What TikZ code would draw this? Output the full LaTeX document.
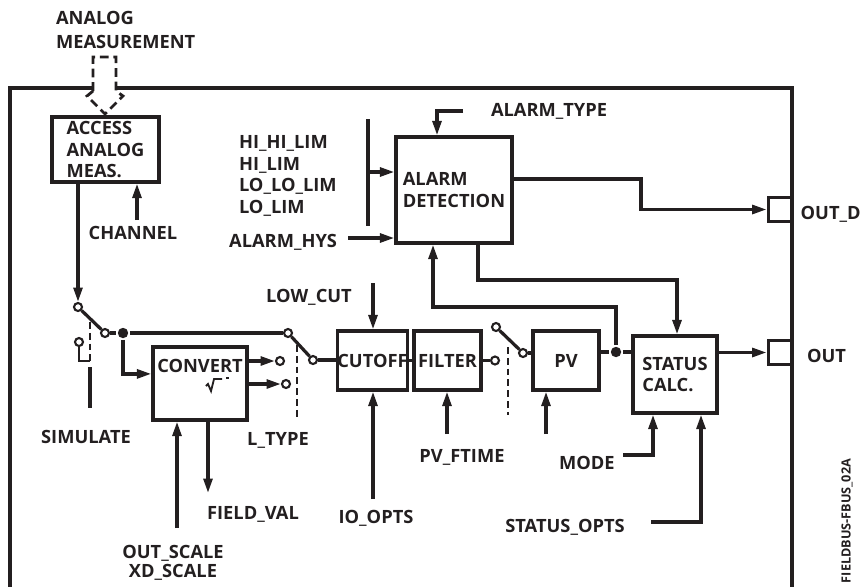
\documentclass[tikz,border=0pt]{standalone}
\usepackage{fontspec}
\setmainfont{Open Sans}
\usetikzlibrary{arrows.meta}
\definecolor{inkblack}{RGB}{35,31,32}

\begin{document}
\begin{tikzpicture}[x=0.025cm, y=-0.025cm, line width=2.3pt, color=inkblack,
    every node/.style={font=\fontsize{13}{15.5}\selectfont\bfseries, inner sep=1pt},
    blk/.style={draw, line width=2.3pt, inner sep=0pt, align=left},
    contact/.style={circle, draw, line width=1.5pt, fill=white, inner sep=0pt, minimum size=0.2cm},
    dot/.style={circle, fill=inkblack, inner sep=0pt, minimum size=0.26cm},
    sig/.style={-{Triangle[length=0.36cm, width=0.22cm]}},
    act/.style={line width=1.4pt, dash pattern=on 0.17cm off 0.1cm}]
    \useasboundingbox (0,0) rectangle (860,586);

    % Block frame
    \draw (93,88) -- (10,88) -- (10,590);
    \draw (116,88) -- (792,88) -- (792,590);

    % Function blocks
    \node[blk, minimum width=2.675cm, minimum height=1.625cm] (acc) at (105.5,149.5) {ACCESS\\ANALOG\\MEAS.};
    \node[blk, minimum width=2.9cm, minimum height=2.65cm] (alarm) at (454,190) {ALARM\\DETECTION};
    \node[blk, minimum width=2.35cm, minimum height=1.825cm] (conv) at (200,383.5) {};
    \node[blk, minimum width=1.675cm, minimum height=1.475cm] (cut) at (372.5,360.5) {CUTOFF};
    \node[blk, minimum width=1.675cm, minimum height=1.475cm] (filt) at (447.5,360.5) {FILTER};
    \node[blk, minimum width=1.65cm, minimum height=1.475cm] (pv) at (566,360.5) {PV};
    \node[blk, minimum width=2.1cm, minimum height=1.925cm] (stat) at (675,374.5) {STATUS\\CALC.};
    \node[blk, minimum size=0.59cm] (outd) at (780,209.5) {};
    \node[blk, minimum size=0.59cm] (out) at (780,352.5) {};

    % Switch contacts and junctions
    \node[contact] (s1) at (78,307) {};
    \node[contact] (s2) at (105,333) {};
    \node[contact] (s3) at (79,342) {};
    \node[dot] (j1) at (123,333) {};
    \node[contact] (t1) at (288,333) {};
    \node[contact] (t2) at (313,360) {};
    \node[contact] (c1) at (280,361) {};
    \node[contact] (c2) at (286,384) {};
    \node[contact] (f1) at (495,360.5) {};
    \node[contact] (p1) at (496,327) {};
    \node[contact] (p2) at (523,353) {};
    \node[dot] (j2) at (616,352) {};

    % Labels
    \node[align=left, anchor=west] (meas) at (53,30) {ANALOG\\[2pt]MEASUREMENT};
    \node (chan) at (133,233) {CHANNEL};
    \node[align=left, anchor=west] (lims) at (236,176) {HI\_HI\_LIM\\HI\_LIM\\LO\_LO\_LIM\\LO\_LIM};
    \node[anchor=east] (hys) at (340,242) {ALARM\_HYS};
    \node[anchor=west] (atype) at (488,111) {ALARM\_TYPE};
    \node[anchor=west, inner sep=0pt] (outdl) at (799,214) {OUT\_D};
    \node[anchor=west] (outl) at (804,356) {OUT};
    \node (sim) at (86,437) {SIMULATE};
    \node (convl) at (200,366) {CONVERT};
    \node (ltype) at (278,440) {L\_TYPE};
    \node (lowcut) at (309,297) {LOW\_CUT};
    \node (ftime) at (462,457) {PV\_FTIME};
    \node (ioopts) at (376,518) {IO\_OPTS};
    \node[anchor=west] (model) at (556,463) {MODE};
    \node (sopts) at (565,527) {STATUS\_OPTS};
    \node (fval) at (253,514) {FIELD\_VAL};
    \node[align=center] (scale) at (173,563) {OUT\_SCALE\\[-2pt]XD\_SCALE};
    \node[rotate=90, font=\fontsize{9}{10}\selectfont\bfseries] (figid) at (847,521) {FIELDBUS-FBUS\_02A};

    % Analog measurement input
    \draw[line width=2pt, dash pattern=on 0.22cm off 0.12cm] (93,91) -- (93,57) -- (116,57) -- (116,91) -- (123,96) -- (105,114) -- (87,96) -- cycle;

    % Measurement path
    \draw[sig] (s1 |- acc.south) -- (s1);
    \draw (s1) -- (s2);
    \draw (s2) -- (j1) -- (t1);
    \draw[sig] (j1) |- ([yshift=0.24cm]conv.west);

    % Simulate switch
    \coordinate (simk) at (90,361);
    \draw[line width=1.6pt] (s3) |- (simk);
    \draw[act] (90,322) -- (simk);
    \draw (90,367) -- (90,408);

    % Convert outputs and square root mark
    \draw[sig] (conv.east |- c1) -- (c1);
    \draw[sig] (conv.east |- c2) -- (c2);
    \draw[line width=1.3pt] (206,386) -- (208,384) -- (211,391) -- (214,379) -- (222,379);
    \draw[line width=1.3pt] (226,378) -- (229,378);

    % L_TYPE switch
    \draw (t1) -- (t2);
    \draw[act] (297,345) -- (297,420);
    \draw (t2) -- (t2 -| cut.west);
    \draw (cut.east) -- (filt.west);
    \draw (filt.east) -- (f1);

    % PV switch
    \draw (p1) -- (p2);
    \draw[act] (508,347) -- (508,415);
    \draw (p2) -- (p2 -| pv.west);
    \draw (pv.east |- j2) -- (j2) -- (j2 -| stat.west);

    % Alarm feedback and outputs
    \coordinate (fb) at (433,307);
    \draw[sig] (j2) |- (fb) -- (fb |- alarm.south);
    \coordinate (al) at (478,280);
    \draw[sig] (al |- alarm.south) -- (al) -| ([xshift=0.05cm]stat.north);
    \coordinate (ad) at (641,179);
    \draw[sig] (alarm.east |- ad) -- (ad) |- (outd.west);
    \draw[sig] (stat.east |- out.west) -- (out.west);

    % Parameter inputs
    \coordinate (ch) at (137,220);
    \draw[sig] (ch) -- (ch |- acc.south);
    \coordinate (aty) at (463,111);
    \coordinate (atyk) at (437,111);
    \draw[sig] (aty) -- (atyk) -- (atyk |- alarm.north);
    \coordinate (limtop) at (368,119);
    \coordinate (limbot) at (368,226);
    \draw (limtop) -- (limbot);
    \coordinate (limk) at (368,172);
    \draw[sig] (limk) -- (limk -| alarm.west);
    \coordinate (hysk) at (348,238);
    \draw[sig] (hysk) -- (hysk -| alarm.west);
    \coordinate (lck) at (373,283);
    \draw[sig] (lck) -- (lck |- cut.north);
    \coordinate (iok) at (373,499);
    \draw[sig] (iok) -- (iok |- cut.south);
    \coordinate (ftk) at (447,434);
    \draw[sig] (ftk) -- (ftk |- filt.south);
    \coordinate (pvk) at (546,434);
    \draw[sig] (pvk) -- (pvk |- pv.south);
    \coordinate (mdk) at (623,455);
    \draw[sig] (mdk) -| ([xshift=-0.55cm]stat.south);
    \coordinate (sok) at (651,522);
    \draw[sig] (sok) -| ([xshift=0.65cm]stat.south);
    \coordinate (fvk) at (208,493);
    \draw[sig] (fvk |- conv.south) -- (fvk);
    \coordinate (osk) at (177,528);
    \draw[sig] (osk) -- (osk |- conv.south);
\end{tikzpicture}
\end{document}
